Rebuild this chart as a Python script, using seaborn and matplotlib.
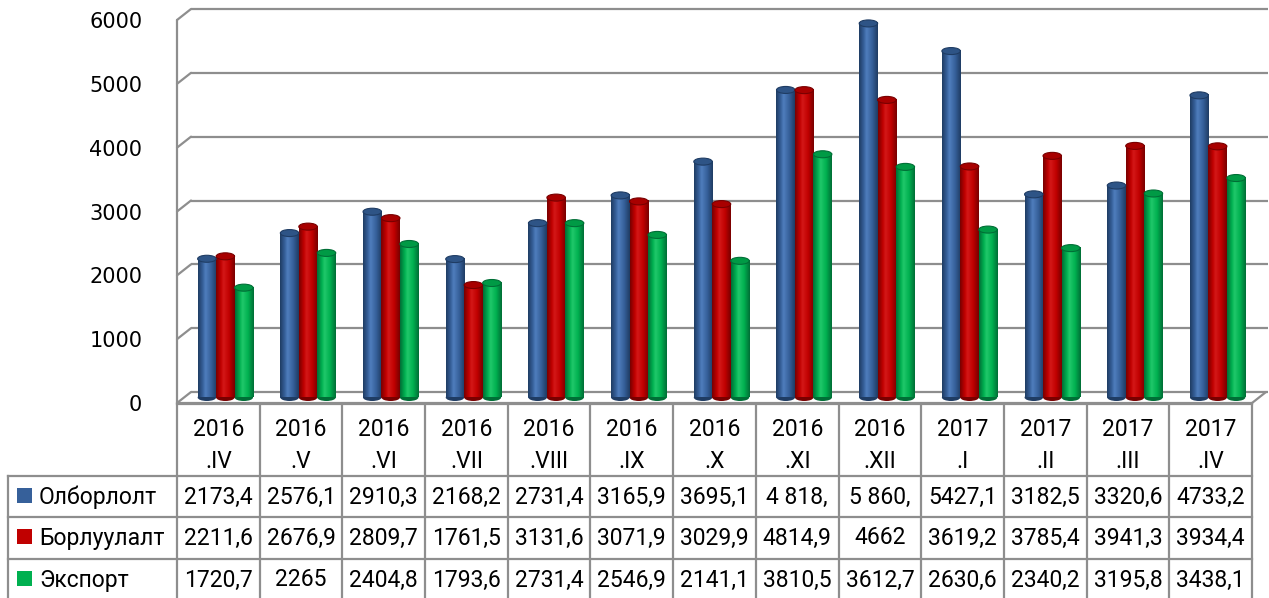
import numpy as np
import pandas as pd
import matplotlib
matplotlib.use("Agg")
import matplotlib.pyplot as plt
import seaborn as sns
from matplotlib.patches import Ellipse, Rectangle
from matplotlib.colors import LinearSegmentedColormap
from matplotlib.lines import Line2D
from matplotlib.transforms import ScaledTranslation

# ---------------- data ----------------
periods = ["2016.IV", "2016.V", "2016.VI", "2016.VII", "2016.VIII", "2016.IX",
           "2016.X", "2016.XI", "2016.XII", "2017.I", "2017.II", "2017.III", "2017.IV"]
series_names = ["Олборлолт", "Борлуулалт", "Экспорт"]
olborlolt = [2173.4, 2576.1, 2910.3, 2168.2, 2731.4, 3165.9, 3695.1, 4818.0, 5860.0,
             5427.1, 3182.5, 3320.6, 4733.2]
borluulalt = [2211.6, 2676.9, 2809.7, 1761.5, 3131.6, 3071.9, 3029.9, 4814.9, 4662.0,
              3619.2, 3785.4, 3941.3, 3934.4]
eksport = [1720.7, 2265.0, 2404.8, 1793.6, 2731.4, 2546.9, 2141.1, 3810.5, 3612.7,
           2630.6, 2340.2, 3195.8, 3438.1]
# table cell texts as printed in the source (two cells are truncated there)
olborlolt_text = ["2173,4", "2576,1", "2910,3", "2168,2", "2731,4", "3165,9", "3695,1",
                  "4 818,", "5 860,", "5427,1", "3182,5", "3320,6", "4733,2"]
borluulalt_text = ["2211,6", "2676,9", "2809,7", "1761,5", "3131,6", "3071,9", "3029,9",
                   "4814,9", "4662", "3619,2", "3785,4", "3941,3", "3934,4"]
eksport_text = ["1720,7", "2265", "2404,8", "1793,6", "2731,4", "2546,9", "2141,1",
                "3810,5", "3612,7", "2630,6", "2340,2", "3195,8", "3438,1"]
y_ticks = [0, 1000, 2000, 3000, 4000, 5000, 6000]

# ---------------- style ----------------
sns.set_theme(style="white")
plt.rcParams["font.family"] = ["Roboto", "DejaVu Sans"]
plt.rcParams["text.color"] = "black"
plt.rcParams["ytick.color"] = "black"

base_colors = ["#36609A", "#C00000", "#00B050"]
dark_colors = ["#1F3C63", "#780000", "#006E36"]
light_colors = ["#4F7EBD", "#D41818", "#20C86A"]
cap_colors = ["#2E5486", "#A80000", "#009A45"]
grid_col = "#8E8E8E"
W, H = 1269, 598

fig = plt.figure(figsize=(W / 100, H / 100), dpi=100)
fig.patch.set_facecolor("white")

# table / overlay axes in pixel coordinates
tax = fig.add_axes([0, 0, 1, 1])
tax.set_xlim(0, W)
tax.set_ylim(H, 0)
tax.axis("off")

# front plane of the chart
x_left, x_right = 177, 1252
y_zero, y_top = 403, 20
ax = fig.add_axes([x_left / W, 1 - y_zero / H, (x_right - x_left) / W, (y_zero - y_top) / H])
ax.patch.set_visible(False)

df = pd.DataFrame({
    "period": periods * 3,
    "series": sum([[s] * len(periods) for s in series_names], []),
    "value": olborlolt + borluulalt + eksport,
})
sns.barplot(data=df, x="period", y="value", hue="series", order=periods,
            hue_order=series_names, palette=base_colors, width=0.67, gap=0,
            saturation=1, legend=False, ax=ax, zorder=3)

n = len(periods)
ax.set_xlim(-0.5, n - 0.5)
ax.set_ylim(0, 6000)
ax.set_yticks(y_ticks)
ax.set_yticklabels([str(t) for t in y_ticks], fontfamily="DejaVu Sans", fontsize=15,
                   color="black")
ax.tick_params(axis="y", length=0, pad=25, labelcolor="black")
ax.set_xticks([])
ax.set_xlabel("")
ax.set_ylabel("")
for s in ax.spines.values():
    s.set_visible(False)

# 3D depth in data units
ax_w_px = x_right - x_left
ax_h_px = y_zero - y_top
DX = 14 / ax_w_px * n
DY = 11 / ax_h_px * 6000

# back wall gridlines + side diagonals
for v in y_ticks:
    ax.plot([-0.5 + DX, n - 0.5 + DX * 1.15], [v + DY, v + DY], color=grid_col, lw=1.6,
            clip_on=False, zorder=0, solid_capstyle="butt")
    ax.plot([-0.5, -0.5 + DX], [v, v + DY], color=grid_col, lw=1.6, clip_on=False, zorder=0)
# front-left edge and floor edges
ax.plot([-0.5, -0.5], [0, 6000], color=grid_col, lw=1.6, clip_on=False, zorder=1)
ax.plot([-0.5, n - 0.5], [0, 0], color=grid_col, lw=1.6, clip_on=False, zorder=1)
ax.plot([n - 0.5, n - 0.5 + DX], [0, DY], color=grid_col, lw=1.6, clip_on=False, zorder=1)

# cylinder styling of the seaborn bars (moved to mid depth)
mid = ScaledTranslation(7 / 100, 5.5 / 100, fig.dpi_scale_trans)
ell_h = 7 / ax_h_px * 6000
bars = [p for p in ax.patches if isinstance(p, Rectangle)]
for i, p in enumerate(bars):
    k = i // n
    cmap = LinearSegmentedColormap.from_list(
        "cyl", [(0, dark_colors[k]), (0.25, base_colors[k]), (0.4, light_colors[k]),
                (0.7, base_colors[k]), (1, dark_colors[k])])
    x0, w, h = p.get_x(), p.get_width(), p.get_height()
    tr = ax.transData + mid
    p.set_transform(tr)
    p.set_facecolor(base_colors[k])
    p.set_edgecolor("none")
    grad = np.linspace(0, 1, 64).reshape(1, -1)
    ax.imshow(grad, cmap=cmap, extent=[x0, x0 + w, 0, h], aspect="auto",
              origin="lower", zorder=3.5, transform=tr, interpolation="bilinear")
    ax.add_patch(Ellipse((x0 + w / 2, 0), w, ell_h, facecolor=dark_colors[k],
                         edgecolor="none", transform=tr, zorder=3.2, clip_on=False))
    ax.add_patch(Ellipse((x0 + w / 2, h), w, ell_h, facecolor=cap_colors[k],
                         edgecolor=dark_colors[k], lw=0.8, transform=tr, zorder=3.8,
                         clip_on=False))
ax.set_xlim(-0.5, n - 0.5)
ax.set_ylim(0, 6000)

# ---------------- data table ----------------
col_w = (x_right - x_left) / n
col_x = [x_left + i * col_w for i in range(n + 1)]
lab_left = 8
head_top, head_bot = 404, 476
row_lines = [476, 517, 559]
row_centers = [497, 538, 580]
lw_t = 1.6
tkw = dict(color=grid_col, lw=lw_t, zorder=1, solid_capstyle="projecting")

tax.add_line(Line2D([x_left, x_right], [head_top, head_top], **tkw))
for y in row_lines:
    tax.add_line(Line2D([lab_left, x_right], [y, y], **tkw))
for x in col_x:
    tax.add_line(Line2D([x, x], [head_top, H + 5], **tkw))
tax.add_line(Line2D([lab_left, lab_left], [head_bot, H + 5], **tkw))

fs = 16.5
for i, per in enumerate(periods):
    yr, mo = per.split(".")
    cx = (col_x[i] + col_x[i + 1]) / 2
    tax.text(cx, 430, yr, ha="center", va="center", fontsize=fs, color="black")
    tax.text(cx, 462, "." + mo, ha="center", va="center", fontsize=fs, color="black")

texts = [olborlolt_text, borluulalt_text, eksport_text]
for r, name in enumerate(series_names):
    cy = row_centers[r]
    tax.add_patch(Rectangle((17, cy - 9.5), 15, 15, facecolor=base_colors[r],
                            edgecolor="none"))
    tax.text(39, cy, name, ha="left", va="center", fontsize=fs, color="black")
    for i in range(n):
        cx = (col_x[i] + col_x[i + 1]) / 2
        tax.text(cx, cy, texts[r][i], ha="center", va="center", fontsize=fs, color="black")

fig.savefig("out.png", dpi=100, facecolor="white")
